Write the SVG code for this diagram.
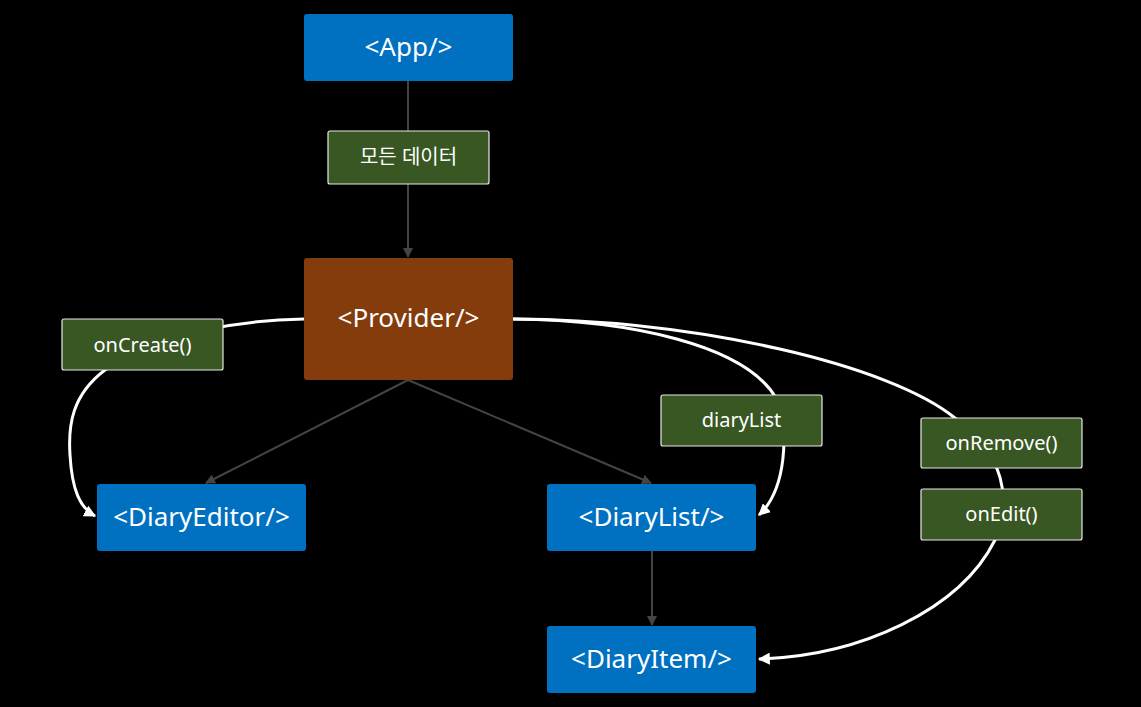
<svg xmlns="http://www.w3.org/2000/svg" width="1141" height="707" viewBox="0 0 1141 707">
  <style>
    .comp { fill: #0070c0; }
    .prov { fill: #843c0c; }
    .tag { fill: #385723; stroke: #e8e8e8; stroke-width: 1.2; }
    .big { font-family: "Noto Sans", "Open Sans", "Noto Sans CJK KR", sans-serif; font-size: 26px; fill: #ffffff; text-anchor: middle; dominant-baseline: central; }
    .small { font-family: "Noto Sans", "Open Sans", "Noto Sans CJK KR", sans-serif; font-size: 20px; fill: #ffffff; text-anchor: middle; dominant-baseline: central; }
    .flow { fill: none; stroke: #444444; stroke-width: 2; }
    .pass { fill: none; stroke: #ffffff; stroke-width: 3; }
  </style>
  <defs>
    <marker id="grayHead" viewBox="0 0 10 10" refX="9" refY="5" markerWidth="5" markerHeight="5" orient="auto" markerUnits="strokeWidth">
      <path d="M0,0 L10,5 L0,10 Z" fill="#444444"/>
    </marker>
    <marker id="whiteHead" viewBox="0 0 10 10" refX="9" refY="5" markerWidth="4" markerHeight="4" orient="auto" markerUnits="strokeWidth">
      <path d="M0,0 L10,5 L0,10 Z" fill="#ffffff"/>
    </marker>
  </defs>
  <rect width="1141" height="707" fill="#000000"/>

  <g id="connectors">
    <line class="flow" x1="408" y1="81" x2="408" y2="257" marker-end="url(#grayHead)"/>
    <line class="flow" x1="408" y1="380" x2="206" y2="483" marker-end="url(#grayHead)"/>
    <line class="flow" x1="408" y1="380" x2="651" y2="483" marker-end="url(#grayHead)"/>
    <line class="flow" x1="652" y1="551" x2="652" y2="625" marker-end="url(#grayHead)"/>
    <path class="pass" d="M304,319 C250,320 160,330 105,370 C72,395 68,425 70,455 C72,490 80,508 95,516" marker-end="url(#whiteHead)"/>
    <path class="pass" d="M513,319 C630,320 745,345 776,398 C790,430 786,490 759,515" marker-end="url(#whiteHead)"/>
    <path class="pass" d="M513,319 C700,320 890,365 955,418 C1005,455 1012,500 995,540 C960,610 860,656 759,659" marker-end="url(#whiteHead)"/>
  </g>

  <g id="app">
    <rect class="comp" x="304" y="14" width="209" height="67" rx="3"/>
    <text class="big" x="408.5" y="46">&lt;App/&gt;</text>
  </g>
  <g id="all-data">
    <rect class="tag" x="328" y="131" width="161" height="53" rx="2"/>
    <text class="small" x="408.5" y="156">모든 데이터</text>
  </g>
  <g id="provider">
    <rect class="prov" x="304" y="258" width="209" height="122" rx="3"/>
    <text class="big" x="408.5" y="317">&lt;Provider/&gt;</text>
  </g>
  <g id="on-create">
    <rect class="tag" x="62" y="319" width="161" height="51" rx="2"/>
    <text class="small" x="142.5" y="344">onCreate()</text>
  </g>
  <g id="diary-list-prop">
    <rect class="tag" x="661" y="395" width="161" height="51" rx="2"/>
    <text class="small" x="741.5" y="419">diaryList</text>
  </g>
  <g id="on-remove">
    <rect class="tag" x="921" y="418" width="161" height="50" rx="2"/>
    <text class="small" x="1001.5" y="442">onRemove()</text>
  </g>
  <g id="on-edit">
    <rect class="tag" x="921" y="489" width="161" height="51" rx="2"/>
    <text class="small" x="1001.5" y="513">onEdit()</text>
  </g>
  <g id="diary-editor">
    <rect class="comp" x="97" y="484" width="209" height="67" rx="3"/>
    <text class="big" x="201.5" y="516">&lt;DiaryEditor/&gt;</text>
  </g>
  <g id="diary-list">
    <rect class="comp" x="547" y="484" width="209" height="67" rx="3"/>
    <text class="big" x="651.5" y="516">&lt;DiaryList/&gt;</text>
  </g>
  <g id="diary-item">
    <rect class="comp" x="547" y="626" width="209" height="67" rx="3"/>
    <text class="big" x="651.5" y="658">&lt;DiaryItem/&gt;</text>
  </g>
</svg>
